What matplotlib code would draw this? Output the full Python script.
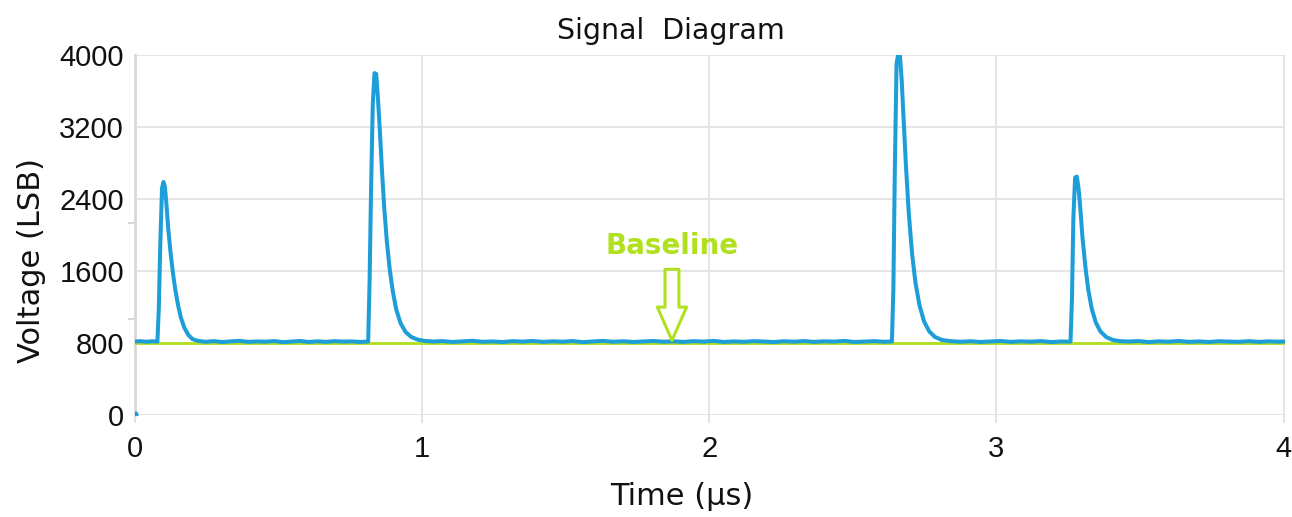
import matplotlib
matplotlib.use("Agg")
import matplotlib.pyplot as plt

# trace: time (us) and voltage (LSB)
t_trace = [
    0.000, 0.020, 0.040, 0.060, 0.078,
    # pulse 1
    0.083, 0.088, 0.094, 0.099, 0.104, 0.110, 0.116, 0.124, 0.132, 0.140, 0.150, 0.160, 0.172, 0.186, 0.200, 0.218,
    0.245, 0.275, 0.305, 0.335, 0.365, 0.395, 0.425, 0.455, 0.485, 0.515, 0.545, 0.575, 0.605,
    0.635, 0.665, 0.695, 0.725, 0.755, 0.785, 0.812,
    # pulse 2
    0.817, 0.822, 0.828, 0.834, 0.840, 0.846, 0.852, 0.860, 0.868, 0.877, 0.887, 0.898, 0.910, 0.925, 0.942, 0.962, 0.985, 1.010,
    1.040, 1.070, 1.105, 1.140, 1.175, 1.210, 1.245, 1.280, 1.315, 1.350, 1.385, 1.420, 1.455,
    1.490, 1.525, 1.560, 1.595, 1.630, 1.665, 1.700, 1.735, 1.770, 1.805, 1.840, 1.875, 1.910,
    1.945, 1.980, 2.015, 2.050, 2.085, 2.120, 2.155, 2.190, 2.225, 2.260, 2.295, 2.330, 2.365,
    2.400, 2.435, 2.470, 2.505, 2.540, 2.575, 2.610, 2.636,
    # pulse 3
    2.641, 2.646, 2.652, 2.658, 2.664, 2.670, 2.677, 2.685, 2.695, 2.706, 2.718, 2.732, 2.748, 2.766, 2.786, 2.810, 2.840,
    2.875, 2.910, 2.945, 2.980, 3.015, 3.050, 3.085, 3.120, 3.155, 3.190, 3.225, 3.258,
    # pulse 4
    3.263, 3.268, 3.274, 3.280, 3.286, 3.292, 3.300, 3.310, 3.320, 3.332, 3.346, 3.362, 3.382, 3.405, 3.430,
    3.460, 3.495, 3.530, 3.565, 3.600, 3.635, 3.670, 3.705, 3.740, 3.775, 3.810, 3.845, 3.880,
    3.915, 3.950, 3.980, 4.000,
]
v_trace = [
    818, 822, 815, 821, 817,
    1200, 1900, 2520, 2590, 2540, 2320, 2060, 1800, 1580, 1400, 1220, 1080, 970, 890, 845, 826,
    815, 822, 812, 820, 825, 814, 819, 816, 823, 811, 818, 824, 813,
    820, 814, 822, 817, 819, 813, 818,
    1500, 2500, 3450, 3800, 3790, 3520, 3200, 2720, 2300, 1930, 1620, 1370, 1170, 1020, 925, 868, 838, 824,
    818, 823, 813, 820, 826, 815, 819, 812, 822, 817, 824, 814, 820,
    816, 823, 811, 819, 825, 815, 821, 813, 818, 824, 816, 820, 814,
    822, 817, 825, 813, 819, 815, 822, 818, 812, 821, 816, 823, 814,
    820, 817, 825, 813, 818, 822, 815, 819,
    1400, 2700, 3900, 4010, 3990, 3720, 3280, 2760, 2230, 1800, 1470, 1220, 1040, 930, 868, 835, 822,
    815, 821, 813, 819, 824, 814, 820, 816, 823, 812, 818, 817,
    1300, 2200, 2640, 2650, 2520, 2300, 1960, 1640, 1390, 1180, 1030, 930, 868, 835, 822,
    818, 823, 812, 820, 816, 824, 814, 819, 813, 821, 817, 815, 822,
    814, 820, 816, 818,
]
baseline = 800
t_range = [0, 4]
y_ticks = [0, 800, 1600, 2400, 3200, 4000]
x_ticks = [0, 1, 2, 3, 4]
y_minor = [0, 1067, 2133, 3200]

blue = "#1E9ED9"
green = "#B0E01E"
grid_c = "#E3E3E3"

fig = plt.figure(figsize=(12.92, 5.17), dpi=100)
ax = fig.add_axes([0.1045, 0.197, 0.8901, 0.6965])

ax.plot(t_range, [baseline, baseline], color=green, lw=2.0, zorder=3)
ax.plot(t_trace, v_trace, color=blue, lw=2.9, zorder=4, solid_joinstyle="round")
ax.plot([0.0], [15], marker="o", ms=3.5, color=blue, zorder=4)

ax.set_xlim(0, 4.005)
ax.set_ylim(0, 4000)
ax.set_xticks(x_ticks)
ax.set_yticks(y_ticks)
ax.set_yticks(y_minor, minor=True)
ax.grid(True, color=grid_c, lw=1.3)
ax.set_axisbelow(True)
for s in ["top", "right", "bottom"]:
    ax.spines[s].set_visible(False)
ax.spines["left"].set_color("#D9D9D9")
ax.spines["left"].set_linewidth(2.0)
ax.tick_params(axis="both", which="major", length=0, pad=8, labelcolor="#111111")
ax.tick_params(axis="y", which="minor", length=5, color="#CFCFCF", width=1.2)
ax.tick_params(axis="x", which="major", length=6, color="#DDDDDD", width=1.2)
for lab in ax.get_xticklabels() + ax.get_yticklabels():
    lab.set_family("Liberation Sans")
    lab.set_fontsize(21)

# baseline annotation
ax.text(1.87, 1880, "Baseline", color=green, fontsize=20, fontweight="bold",
        ha="center", va="center", family="DejaVu Sans")
ax.annotate("", xy=(1.87, 830), xytext=(1.87, 1620),
            arrowprops=dict(arrowstyle="simple,head_length=1.2,head_width=1.05,tail_width=0.5",
                            fc="white", ec=green, lw=2.2, shrinkA=0, shrinkB=0,
                            mutation_scale=20),
            zorder=5)

fig.text(0.519, 0.94, "Signal  Diagram", ha="center", va="center",
         fontsize=20.5, family="DejaVu Sans", color="#111111")
fig.text(0.528, 0.04, "Time (\u03bcs)", ha="center", va="center",
         fontsize=22, family="DejaVu Sans", color="#111111")
fig.text(0.024, 0.497, "Voltage (LSB)", ha="center", va="center", rotation=90,
         fontsize=22, family="DejaVu Sans", color="#111111")

fig.savefig("out.png", dpi=100)
